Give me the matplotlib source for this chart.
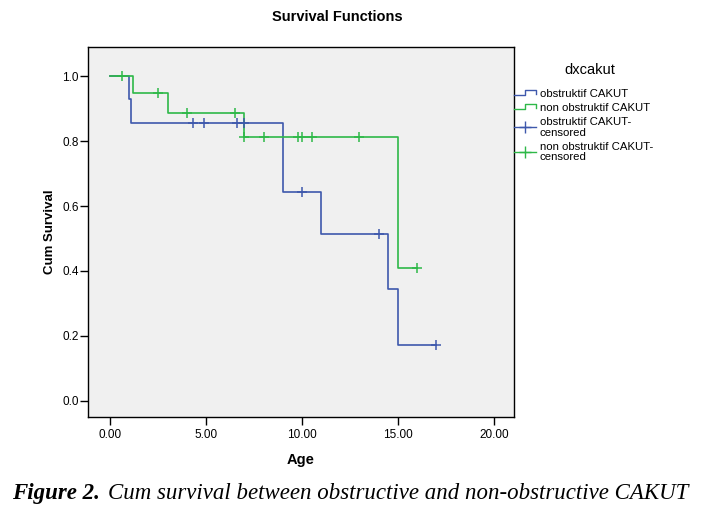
import numpy as np
import matplotlib.pyplot as plt
from matplotlib.legend_handler import HandlerBase
from matplotlib.lines import Line2D

# obstruktif CAKUT: step curve and censored points
obs_t = [0.0, 1.0, 1.1, 9.0, 11.0, 14.5, 15.0, 17.0]
obs_s = [1.0, 0.929, 0.857, 0.643, 0.514, 0.343, 0.171, 0.171]
obs_cens_t = [4.3, 4.9, 6.6, 7.0, 10.0, 14.0, 17.0]
obs_cens_s = [0.857, 0.857, 0.857, 0.857, 0.643, 0.514, 0.171]

# non obstruktif CAKUT
non_t = [0.0, 1.2, 3.0, 7.0, 15.0, 16.0]
non_s = [1.0, 0.947, 0.887, 0.813, 0.408, 0.408]
non_cens_t = [0.6, 2.5, 4.0, 6.5, 7.0, 8.0, 9.8, 10.0, 10.5, 13.0, 16.0]
non_cens_s = [1.0, 0.947, 0.887, 0.887, 0.813, 0.813, 0.813, 0.813, 0.813, 0.813, 0.408]

xticks = [0, 5, 10, 15, 20]
yticks = [0.0, 0.2, 0.4, 0.6, 0.8, 1.0]

blue = "#3e58ac"
green = "#2eb848"

plt.rcParams['font.family'] = ['Liberation Sans', 'DejaVu Sans']


class StepHandler(HandlerBase):
    def create_artists(self, legend, orig, xd, yd, w, h, fontsize, trans):
        xs = np.array([0.0, 0.5, 0.5, 1.0, 1.0]) * w - xd
        ys = np.array([0.3, 0.3, 0.85, 0.85, 0.45]) * h - yd
        ln = Line2D(xs, ys, color=orig.get_color(), lw=1.0, transform=trans)
        return [ln]


class CensHandler(HandlerBase):
    def create_artists(self, legend, orig, xd, yd, w, h, fontsize, trans):
        ln = Line2D([-xd, w - xd], [0.5 * h - yd] * 2, color=orig.get_color(), lw=1.0,
                    transform=trans)
        mk = Line2D([0.5 * w - xd], [0.5 * h - yd], color=orig.get_color(), marker='+',
                    markersize=9, mew=1.0, ls='none', transform=trans)
        return [ln, mk]


fig = plt.figure(figsize=(7.04, 5.19), dpi=100)
ax = fig.add_axes([0.125, 0.1965, 0.605, 0.713])
ax.set_facecolor("#f0f0f0")

l1, = ax.step(obs_t, obs_s, where='post', color=blue, lw=1.2)
l2, = ax.step(non_t, non_s, where='post', color=green, lw=1.2)
c1, = ax.plot(obs_cens_t, obs_cens_s, ls='none', marker='+', markersize=6.5, mew=1.1, color=blue)
c2, = ax.plot(non_cens_t, non_cens_s, ls='none', marker='+', markersize=6.5, mew=1.1, color=green)

ax.set_xlim(-1.15, 21.05)
ax.set_ylim(-0.05, 1.09)
ax.set_xticks(xticks)
ax.set_xticklabels(["%.2f" % v for v in xticks])
ax.set_yticks(yticks)
ax.set_yticklabels(["%.1f" % v for v in yticks])
ax.tick_params(direction='out', length=6, width=1, labelsize=8.5, colors='black')
ax.tick_params(axis='y', pad=0.5)
ax.tick_params(axis='x', pad=2.5)
for s in ax.spines.values():
    s.set_linewidth(1.0)

ax.set_xlabel("Age", fontsize=10.5, fontweight='bold', labelpad=9)
ax.set_ylabel("Cum Survival", fontsize=9.5, fontweight='bold', labelpad=5)
fig.text(0.479, 0.967, "Survival Functions", ha='center', va='center',
         fontsize=10.5, fontweight='bold')

fig.text(0.838, 0.865, "dxcakut", ha='center', va='center', fontsize=10.5)
leg = ax.legend([l1, l2, c1, c2],
                ["obstruktif CAKUT", "non obstruktif CAKUT",
                 "obstruktif CAKUT-\ncensored", "non obstruktif CAKUT-\ncensored"],
                handler_map={l1: StepHandler(), l2: StepHandler(),
                             c1: CensHandler(), c2: CensHandler()},
                loc='upper left', bbox_to_anchor=(1.0, 0.886), frameon=False,
                fontsize=8.2, handlelength=1.9, handletextpad=0.35, labelspacing=0.35,
                borderaxespad=0.0, borderpad=0.0)
for t in leg.get_texts():
    t.set_linespacing(1.05)

fig.text(0.017, 0.05, "Figure 2.", fontsize=16.5, fontweight='bold', style='italic',
         family='Liberation Serif', va='center')
fig.text(0.153, 0.05, "Cum survival between obstructive and non-obstructive CAKUT",
         fontsize=16.5, style='italic', family='Liberation Serif', va='center')

fig.savefig("out.png", dpi=100)
